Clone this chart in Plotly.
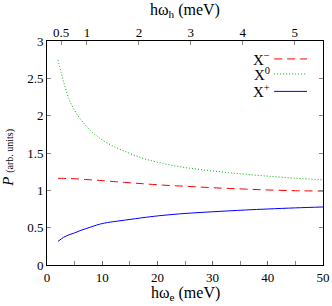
import plotly.graph_objects as go

# Data
e_meV = [2, 3, 4, 5, 6, 7, 8, 9, 10, 12, 14, 16, 18, 21, 24, 27, 30, 33, 36, 40, 45, 50]
p_xminus = [1.16, 1.16, 1.158, 1.155, 1.15, 1.145, 1.14, 1.135, 1.13, 1.118, 1.107, 1.096, 1.085, 1.07,
            1.058, 1.047, 1.035, 1.025, 1.016, 1.005, 0.995, 0.99]
p_xzero = [2.745, 2.455, 2.22, 2.07, 1.96, 1.87, 1.79, 1.73, 1.675, 1.59, 1.525, 1.465, 1.415, 1.36,
           1.317, 1.285, 1.26, 1.236, 1.215, 1.19, 1.162, 1.14]
p_xplus = [0.317, 0.37, 0.405, 0.43, 0.46, 0.485, 0.51, 0.535, 0.555, 0.58, 0.60, 0.62, 0.64, 0.665,
           0.685, 0.70, 0.713, 0.725, 0.737, 0.75, 0.765, 0.777]

top_ticks = [0.5, 1, 2, 3, 4, 5]
top_labels = ["0.5", "1", "2", "3", "4", "5"]
top_range = [0.23, 5.544]

series = [
    ("X<sup>−</sup>", p_xminus, "#ff0000", "8px,5px"),
    ("X<sup>0</sup>", p_xzero, "#00b000", "1px,2px"),
    ("X<sup>+</sup>", p_xplus, "#0000ff", "solid"),
]

FONT = "Liberation Serif, Times New Roman, serif"

fig = go.Figure()
for name, vals, col, dash in series:
    fig.add_trace(go.Scatter(x=e_meV, y=vals, mode="lines", name=name,
                             line=dict(color=col, width=1, dash=dash, shape="spline"),
                             showlegend=False))

# hidden trace to anchor top axis
fig.add_trace(go.Scatter(x=top_range, y=[None, None], xaxis="x2", yaxis="y",
                         mode="lines", showlegend=False, hoverinfo="skip"))

# manual legend (text left, line right)
leg_y = [0.92, 0.853, 0.775]
for (name, vals, col, dash), ly in zip(series, leg_y):
    fig.add_annotation(xref="paper", yref="paper", x=0.817, y=ly, text=name,
                       showarrow=False, xanchor="right", yanchor="middle",
                       font=dict(family=FONT, size=15, color="black"))
    fig.add_shape(type="line", xref="paper", yref="paper",
                  x0=0.823, x1=0.942, y0=ly, y1=ly,
                  line=dict(color=col, width=1, dash=dash))

# axis titles as annotations
fig.add_annotation(xref="paper", yref="paper", x=0.5, y=-0.125, yanchor="middle",
                   text="hω<sub>e</sub> (meV)", showarrow=False,
                   font=dict(family=FONT, size=16, color="black"))
fig.add_annotation(xref="paper", yref="paper", x=0.5, y=1.138, yanchor="middle",
                   text="hω<sub>h</sub> (meV)", showarrow=False,
                   font=dict(family=FONT, size=16, color="black"))
fig.add_annotation(xref="paper", yref="paper", x=-0.142, y=0.478, textangle=-90,
                   xanchor="center", yanchor="middle",
                   text="<i>P</i> <span style='font-size:10px'>(arb. units)</span>",
                   showarrow=False, font=dict(family=FONT, size=15, color="black"))

fig.update_layout(
    width=332, height=306,
    margin=dict(l=47, r=9, t=41, b=41, autoexpand=False),
    paper_bgcolor="white", plot_bgcolor="white",
    font=dict(family=FONT, size=12, color="black"),
    xaxis=dict(range=[0, 50], dtick=10, ticks="inside", ticklen=4,
               tickcolor="#666", showline=True, linecolor="black",
               linewidth=1, mirror=True, showgrid=False, zeroline=False,
               automargin=False,
               minor=dict(dtick=5, ticks="inside", ticklen=4, tickcolor="#888"),
               tickfont=dict(family=FONT, size=13)),
    xaxis2=dict(range=top_range, overlaying="x", side="top",
                tickvals=top_ticks, ticktext=top_labels, ticks="inside",
                ticklen=4, tickcolor="#888", showline=False, showgrid=False,
                zeroline=False, automargin=False,
                tickfont=dict(family=FONT, size=13)),
    yaxis=dict(range=[0, 3], dtick=0.5, ticks="inside", ticklen=4,
               tickcolor="#888", showline=True, linecolor="black",
               linewidth=1, mirror="ticks", showgrid=False, zeroline=False,
               automargin=False,
               tickfont=dict(family=FONT, size=13)),
)

fig.write_html(
    "out.html",
    config={"displayModeBar": False},
    post_script="document.body.style.margin='0';document.body.style.padding='0';"
                "document.body.style.overflow='hidden';",
)
